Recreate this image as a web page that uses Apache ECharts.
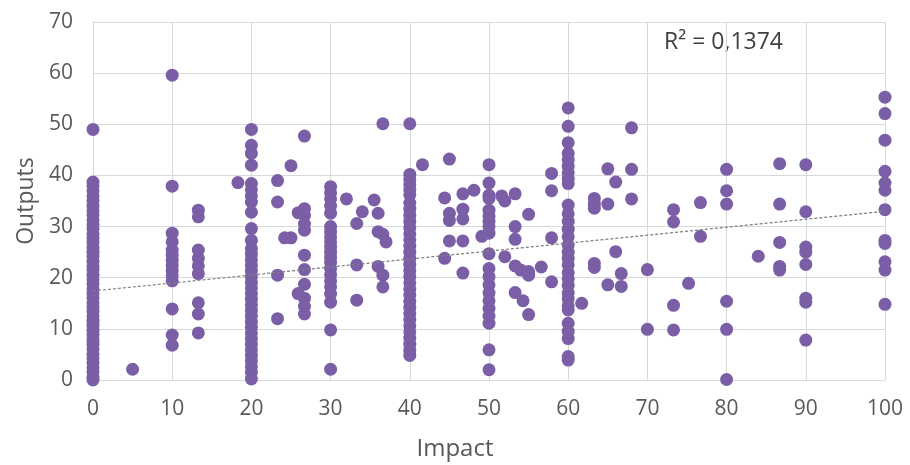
<!DOCTYPE html>
<html>
<head>
<meta charset="utf-8">
<script src="https://cdn.jsdelivr.net/npm/echarts@6/dist/echarts.min.js"></script>
<style>html,body{margin:0;padding:0;background:#fff;}#c{width:910px;height:465px;}</style>
</head>
<body>
<div id="c"></div>
<script>
// Impact values (x) and the Outputs values (y) observed at each of them
const impactValues = [0, 5, 10, 13.3, 18.3, 20, 23.3, 24.2, 25, 25.9, 26.7, 30, 32, 33.3, 34, 35.5, 36, 36.6, 37,
  40, 41.6, 44.4, 45, 46.7, 48.1, 49.1, 50, 51.6, 52, 53.3, 54, 54.3, 55, 56.6, 57.9, 60, 61.7, 63.3, 65, 66, 66.7,
  68, 70, 73.3, 75.2, 76.7, 80, 84, 86.7, 90, 100];
const outputsByImpact = [
  [0, 0.6, 1.6, 2.4, 3.4, 4.2, 5.1, 6.1, 7.0, 7.8, 8.8, 9.7, 10.7, 11.5, 12.4, 13.4, 14.2, 15.1, 16.1, 16.9, 17.8, 18.8, 19.6, 20.5, 21.5, 22.3, 23.2, 24.2, 25.0, 25.9, 26.9, 27.7, 28.6, 29.6, 30.4, 31.3, 32.3, 33.1, 34.0, 35.1, 36.0, 37.0, 38.0, 38.7, 49.0],
  [2.1],
  [59.6, 37.9, 28.7, 27.0, 25.4, 24.4, 23.4, 22.4, 21.4, 20.4, 19.4, 13.9, 8.8, 6.8],
  [33.2, 31.9, 25.4, 23.8, 22.3, 20.8, 15.1, 12.9, 9.2],
  [38.6],
  [49.0, 45.9, 44.3, 42.0, 38.4, 37.2, 36.0, 34.8, 32.8, 29.6, 27.3, 25.7, 24.6, 23.5, 22.4, 21.3, 20.2, 19.1, 18.0, 16.9, 15.8, 14.7, 13.6, 12.5, 11.4, 10.3, 9.2, 8.1, 7.0, 5.9, 4.8, 3.7, 2.6, 1.5, 0.2],
  [39.0, 34.8, 20.5, 12.0],
  [27.8],
  [41.9, 27.8],
  [32.7, 16.9],
  [47.7, 33.5, 32.2, 30.5, 29.3, 24.4, 21.6, 18.7, 16.0, 14.4, 12.9],
  [37.8, 36.6, 35.4, 34.0, 32.6, 30.0, 29.0, 28.0, 27.0, 26.0, 25.0, 24.0, 23.0, 21.8, 20.6, 19.4, 18.2, 16.8, 15.2, 9.8, 2.1],
  [35.4],
  [30.6, 22.5, 15.6],
  [32.9],
  [35.2],
  [32.6, 29.0, 22.2],
  [50.1, 28.5, 20.5, 18.2],
  [27.0],
  [50.1, 40.2, 39.2, 38.2, 37.2, 36.2, 34.6, 33.4, 32.2, 31.0, 29.8, 28.6, 27.4, 26.2, 25.0, 23.8, 22.6, 21.4, 20.2, 19.0, 17.8, 16.6, 15.4, 14.2, 13.0, 11.8, 10.6, 9.4, 8.2, 7.0, 5.8, 4.8],
  [42.1],
  [35.6, 23.8],
  [43.2, 32.6, 31.2, 27.2],
  [36.4, 33.4, 31.5, 27.2, 20.9],
  [37.1],
  [28.1],
  [42.1, 38.5, 36.1, 35.5, 33.2, 32.0, 31.0, 30.0, 28.7, 24.7, 21.8, 20.2, 18.6, 17.0, 15.5, 14.0, 12.5, 11.1, 5.9, 2.0],
  [36.0],
  [35.0, 24.1],
  [36.4, 30.0, 27.5, 22.3, 17.1],
  [21.5],
  [15.5],
  [32.4, 21.2, 20.5, 12.8],
  [22.1],
  [40.4, 37.0, 27.8, 19.2],
  [53.2, 49.6, 46.4, 44.3, 43.0, 41.8, 40.5, 39.4, 38.4, 34.2, 32.5, 31.0, 29.5, 28.0, 26.4, 25.0, 23.8, 22.5, 21.0, 19.8, 18.5, 17.0, 15.9, 14.5, 13.7, 11.1, 9.5, 8.1, 4.6, 3.9],
  [15.0],
  [35.5, 34.4, 33.6, 22.8, 22.0],
  [41.3, 34.4, 18.6],
  [38.7, 25.1],
  [20.8, 18.3],
  [49.3, 41.2, 35.4],
  [21.6, 9.9],
  [33.3, 30.9, 14.6, 9.8],
  [18.9],
  [34.7, 28.1],
  [41.2, 37.0, 34.4, 15.4, 9.9, 0.1],
  [24.2],
  [42.3, 34.4, 26.9, 22.2, 21.5],
  [42.1, 32.9, 26.0, 25.0, 22.6, 16.0, 15.2, 7.8],
  [55.3, 52.1, 46.9, 40.8, 38.5, 37.1, 33.3, 27.3, 26.7, 23.1, 21.5, 14.8]
];
// Linear trendline (end points)
const trendX = [0, 100];
const trendY = [17.4, 33.0];
const rSquaredLabel = 'R² = 0,1374';
const xTitle = 'Impact';
const yTitle = 'Outputs';

const points = [];
impactValues.forEach((x, i) => outputsByImpact[i].forEach(y => points.push([x, y])));
const trend = trendX.map((x, i) => [x, trendY[i]]);

const FONT = '"Open Sans", "Noto Sans", sans-serif';
const chart = echarts.init(document.getElementById('c'), null, {renderer: 'canvas'});
chart.setOption({
  animation: false,
  backgroundColor: '#ffffff',
  grid: {left: 93, right: 25, top: 22, bottom: 85, containLabel: false},
  xAxis: {
    type: 'value', min: 0, max: 100, interval: 10,
    axisLine: {show: true, lineStyle: {color: '#d9d9d9', width: 1}},
    axisTick: {show: false},
    splitLine: {show: true, lineStyle: {color: '#d9d9d9', width: 1}},
    axisLabel: {color: '#595959', fontSize: 21, fontFamily: FONT, margin: 19}
  },
  yAxis: {
    type: 'value', min: 0, max: 70, interval: 10,
    name: yTitle, nameLocation: 'middle', nameGap: 53, nameRotate: 90,
    nameTextStyle: {color: '#595959', fontSize: 23, fontFamily: FONT},
    axisLine: {show: true, lineStyle: {color: '#d9d9d9', width: 1}},
    axisTick: {show: false},
    splitLine: {show: true, lineStyle: {color: '#d9d9d9', width: 1}},
    axisLabel: {color: '#595959', fontSize: 21, fontFamily: FONT, margin: 20}
  },
  series: [
    {
      type: 'scatter', data: points, symbolSize: 13,
      itemStyle: {color: '#7b5fa6', opacity: 1}
    },
    {
      type: 'line', data: trend, showSymbol: false, symbol: 'none', z: 5,
      lineStyle: {color: '#7f7f7f', width: 1.2, type: [3, 2]}
    }
  ],
  graphic: [
    {type: 'text', left: 'center', top: 437, style: {text: xTitle, fill: '#595959', font: '24px ' + FONT}, x: -32},
    {type: 'text', left: 664, top: 31, style: {text: rSquaredLabel, fill: '#404040', font: '23px ' + FONT}}
  ]
});
</script>
</body>
</html>
